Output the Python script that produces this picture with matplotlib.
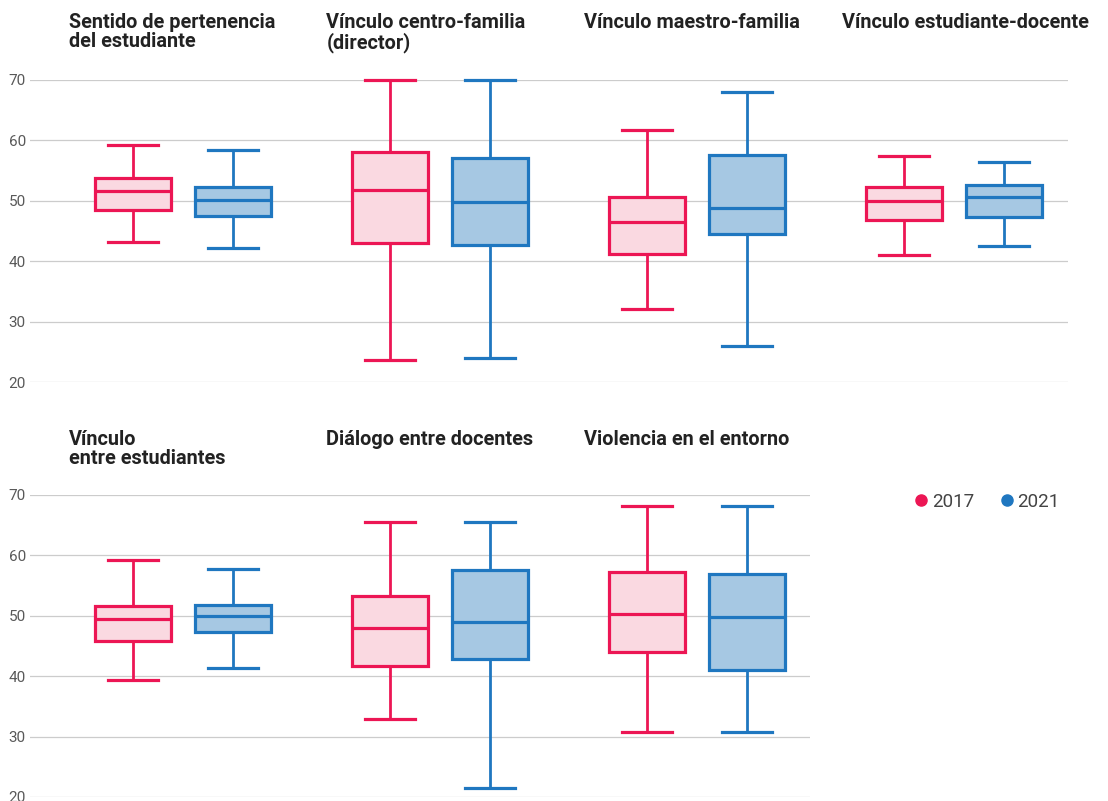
import matplotlib.pyplot as plt
from matplotlib.lines import Line2D

plt.rcParams['font.family'] = ['Roboto', 'DejaVu Sans']

# Indicadores (títulos de cada panel)
top_titles = ['Sentido de pertenencia\ndel estudiante', 'Vínculo centro-familia\n(director)',
              'Vínculo maestro-familia', 'Vínculo estudiante-docente']
bottom_titles = ['Vínculo\nentre estudiantes', 'Diálogo entre docentes', 'Violencia en el entorno']

# Resumen de cajas: mínimo, Q1, mediana, Q3, máximo
low_2017 = [43.2, 23.6, 32.0, 40.95, 39.3, 32.9, 30.7]
q1_2017 = [48.45, 42.9, 41.2, 46.7, 45.9, 41.7, 44.0]
med_2017 = [51.5, 51.75, 46.5, 49.9, 49.4, 47.9, 50.3]
q3_2017 = [53.8, 58.0, 50.65, 52.25, 51.6, 53.3, 57.2]
high_2017 = [59.2, 70.0, 61.6, 57.3, 59.3, 65.45, 68.1]

low_2021 = [42.2, 23.9, 26.0, 42.4, 41.3, 21.5, 30.7]
q1_2021 = [47.45, 42.65, 44.4, 47.2, 47.4, 42.9, 41.05]
med_2021 = [50.15, 49.8, 48.7, 50.65, 50.0, 49.0, 49.8]
q3_2021 = [52.2, 57.0, 57.5, 52.5, 51.75, 57.6, 56.9]
high_2021 = [58.3, 70.0, 68.0, 56.3, 57.7, 65.45, 68.1]

years = ['2017', '2021']
y_ticks = [20, 30, 40, 50, 60, 70]

edge = {'2017': '#ec1654', '2021': '#1f77c0'}
fill = {'2017': '#fad9e1', '2021': '#a6c8e3'}

W, H = 1108, 801
fig = plt.figure(figsize=(W / 100, H / 100), dpi=100)


def stats(lo, q1, med, q3, hi, idx):
    return [{'whislo': lo[i], 'q1': q1[i], 'med': med[i], 'q3': q3[i], 'whishi': hi[i], 'fliers': []}
            for i in idx]


def draw_row(rect, idx, xmax):
    ax = fig.add_axes(rect)
    n = len(idx)
    series = {'2017': stats(low_2017, q1_2017, med_2017, q3_2017, high_2017, idx),
              '2021': stats(low_2021, q1_2021, med_2021, q3_2021, high_2021, idx)}
    for k, year in enumerate(years):
        pos = [i + (-0.195 if k == 0 else 0.195) for i in range(n)]
        c = edge[year]
        art = ax.bxp(series[year], positions=pos, widths=0.296, capwidths=0.195,
                     patch_artist=True, showfliers=False, manage_ticks=False,
                     boxprops=dict(facecolor=fill[year], edgecolor=c, linewidth=2.3),
                     medianprops=dict(color=c, linewidth=2.3),
                     whiskerprops=dict(color=c, linewidth=2.0),
                     capprops=dict(color=c, linewidth=2.3))
        for group in art.values():
            for a in group:
                a.set_clip_on(False)
                a.set_zorder(3)
    ax.set_xlim(-0.595, xmax)
    ax.set_ylim(20, 70)
    ax.set_yticks(y_ticks)
    ax.set_xticks([])
    ax.grid(axis='y', color='#cccccc', linewidth=0.9)
    ax.set_axisbelow(True)
    ax.tick_params(axis='y', length=0, pad=3, labelsize=11, labelcolor='#595959')
    for s in ax.spines.values():
        s.set_visible(False)
    return ax


# fila superior
draw_row([30 / W, 1 - 382 / H, 1038 / W, 302.5 / H], [0, 1, 2, 3], 3.444)
for i, t in enumerate(top_titles):
    fig.text((69 + 257.5 * i) / W, 1 - 13 / H, t, fontsize=14.3, fontweight='bold',
             color='#222222', va='top', ha='left', linespacing=1.02)

# fila inferior
draw_row([30 / W, 1 - 797 / H, 780 / W, 302 / H], [4, 5, 6], 2.44)
for i, t in enumerate(bottom_titles):
    fig.text((69 + 257.5 * i) / W, 1 - 430 / H, t, fontsize=14.3, fontweight='bold',
             color='#222222', va='top', ha='left', linespacing=1.02)

handles = [Line2D([], [], marker='o', linestyle='none', markersize=8,
                  markerfacecolor=edge[y], markeredgecolor=edge[y]) for y in years]
fig.legend(handles, years, loc='center left', bbox_to_anchor=(916 / W, 1 - 502 / H),
           ncol=2, frameon=False, fontsize=13.5, handlelength=0.55, handletextpad=0.3,
           columnspacing=1.45, labelcolor='#444444', borderaxespad=0, borderpad=0)

fig.savefig('out.png', dpi=100)
